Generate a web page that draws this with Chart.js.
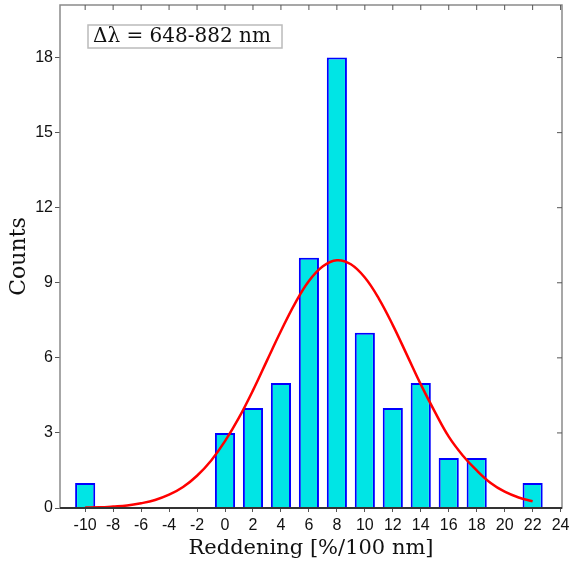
<!DOCTYPE html>
<html lang="en">
<head>
<meta charset="UTF-8">
<script src="https://cdn.jsdelivr.net/npm/chart.js"></script>
<title>Reddening histogram</title>
<style>
  html, body { margin: 0; padding: 0; background: #fff; }
  #wrap { width: 573px; height: 564px; }
</style>
</head>
<body>
<div id="wrap"><canvas id="hist"></canvas></div>
<script>
// histogram bins (center of bin) and counts
const binCenters = [-10, 0, 2, 4, 6, 8, 10, 12, 14, 16, 18, 22];
const binCounts  = [1, 3, 4, 5, 10, 18, 7, 4, 5, 2, 2, 1];

// gaussian fit
const fitX = [-10, -9, -8, -7, -6, -5, -4, -3, -2, -1, 0, 1, 2, 3, 4, 5, 6, 7, 8, 9, 10, 11, 12, 13, 14, 15, 16, 17, 18, 19, 20, 21, 22];
const fitY = [0.02, 0.03, 0.06, 0.1, 0.19, 0.32, 0.53, 0.84, 1.29, 1.89, 2.67, 3.61, 4.7, 5.89, 7.07, 8.17, 9.07, 9.66, 9.9, 9.74, 9.21, 8.37, 7.31, 6.13, 4.94, 3.85, 2.85, 2.1, 1.5, 1.0, 0.65, 0.42, 0.27];

const xTicks = [-10, -8, -6, -4, -2, 0, 2, 4, 6, 8, 10, 12, 14, 16, 18, 20, 22, 24];
const yTicks = [0, 3, 6, 9, 12, 15, 18];
const boxLabel = 'Δλ = 648-882 nm';

const frame = {
    id: 'frame',
    afterDatasetsDraw(chart) {
        const { ctx, chartArea: a, scales } = chart;
        ctx.save();
        // box around plot
        ctx.strokeStyle = '#8a8a8a';
        ctx.lineWidth = 1.5;
        ctx.strokeRect(a.left, a.top, a.right - a.left, a.bottom - a.top);
        // inward ticks on top and right
        ctx.strokeStyle = '#555';
        ctx.lineWidth = 1;
        ctx.beginPath();
        scales.x.ticks.forEach(t => {
            const px = scales.x.getPixelForValue(t.value);
            ctx.moveTo(px, a.top); ctx.lineTo(px, a.top + 5);
        });
        scales.y.ticks.forEach(t => {
            const py = scales.y.getPixelForValue(t.value);
            ctx.moveTo(a.right, py); ctx.lineTo(a.right - 5, py);
        });
        ctx.stroke();
        // bottom axis line
        ctx.strokeStyle = '#333';
        ctx.lineWidth = 2;
        ctx.beginPath();
        ctx.moveTo(a.left, a.bottom); ctx.lineTo(a.right, a.bottom);
        ctx.stroke();
        // label box
        const bx = a.left + 28, by = a.top + 20;
        ctx.fillStyle = '#fff';
        ctx.fillRect(bx, by, 194, 23);
        ctx.strokeStyle = '#bbb';
        ctx.lineWidth = 1.5;
        ctx.strokeRect(bx, by, 194, 23);
        ctx.fillStyle = '#111';
        ctx.font = '20px "DejaVu Serif"';
        ctx.textBaseline = 'middle';
        ctx.fillText(boxLabel, bx + 5, by + 12);
        ctx.restore();
    }
};

new Chart(document.getElementById('hist'), {
    type: 'bar',
    data: {
        datasets: [
            {
                type: 'line',
                data: fitX.map((x, i) => ({ x: x, y: fitY[i] })),
                borderColor: '#ff0000',
                borderWidth: 2.5,
                pointRadius: 0,
                tension: 0.4,
                fill: false,
                order: 0
            },
            {
                data: binCenters.map((x, i) => ({ x: x, y: binCounts[i] })),
                backgroundColor: '#00e5e5',
                borderColor: '#0000ff',
                borderWidth: 2,
                categoryPercentage: 0.72,
                barPercentage: 1.0,
                order: 1
            }
        ]
    },
    options: {
        responsive: true,
        maintainAspectRatio: false,
        animation: false,
        layout: { padding: { top: 5, right: 11, left: 0, bottom: 0 } },
        plugins: { legend: { display: false }, tooltip: { enabled: false } },
        scales: {
            x: {
                type: 'linear',
                offset: false,
                min: -11.8,
                max: 24.1,
                afterBuildTicks: s => { s.ticks = xTicks.map(v => ({ value: v })); },
                afterFit: s => { s.height = 56; s.paddingRight = 0; s.paddingLeft = 0; },
                grid: { display: true, drawOnChartArea: false, tickLength: 4, color: '#555', offset: false },
                border: { display: false },
                ticks: { color: '#111', font: { family: 'Liberation Sans', size: 16 }, padding: 4, maxRotation: 0, autoSkip: false },
                title: { display: true, text: 'Reddening [%/100 nm]', color: '#111', font: { family: 'DejaVu Serif', size: 21 }, padding: { top: 0, bottom: 3 } }
            },
            y: {
                min: 0,
                max: 20.1,
                afterBuildTicks: s => { s.ticks = yTicks.map(v => ({ value: v })); },
                afterFit: s => { s.width = 60; s.paddingTop = 0; s.paddingBottom = 0; },
                grid: { display: true, drawOnChartArea: false, tickLength: 5, color: '#555' },
                border: { display: false },
                ticks: { color: '#111', font: { family: 'Liberation Sans', size: 16 }, padding: 2 },
                title: { display: true, text: 'Counts', color: '#111', font: { family: 'DejaVu Serif', size: 22 }, padding: { top: 6, bottom: 0 } }
            }
        }
    },
    plugins: [frame]
});
</script>
</body>
</html>
